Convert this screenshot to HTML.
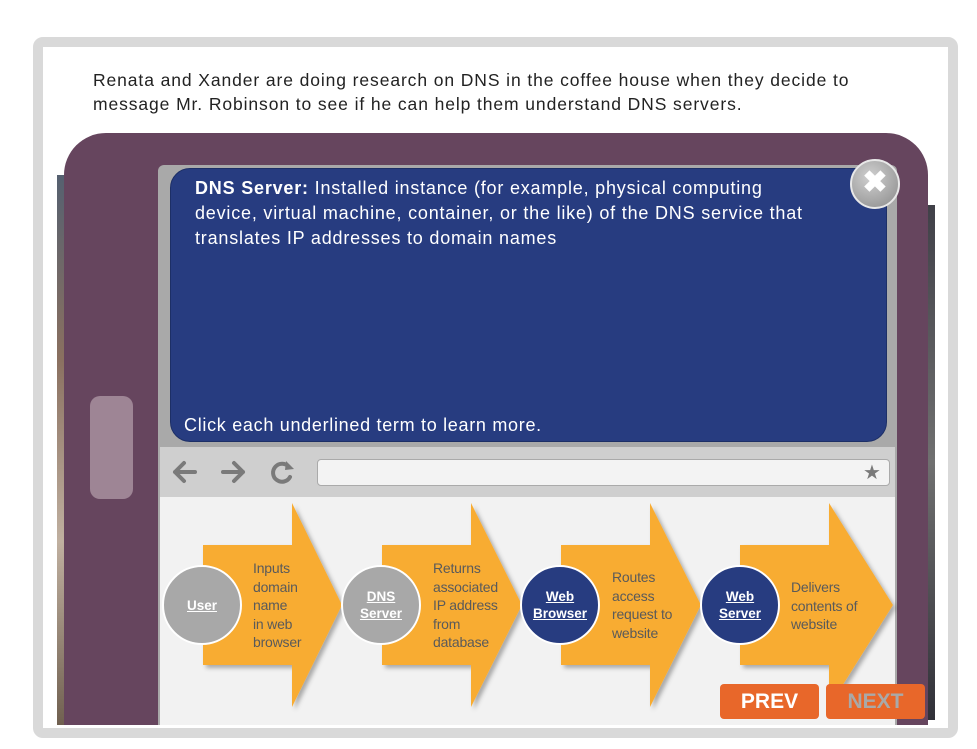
<!DOCTYPE html>
<html><head><meta charset="utf-8"><style>
*{margin:0;padding:0;box-sizing:border-box}
body{width:977px;height:749px;background:#fff;position:relative;overflow:hidden;font-family:"Liberation Sans",sans-serif}
.abs{position:absolute}
.txt{color:#5a5a5a;font-size:14px;line-height:18.5px;letter-spacing:-0.2px}
.circ{position:absolute;width:80px;height:80px;border-radius:50%;border:2px solid #fff;color:#fff;font-weight:bold;font-size:13.5px;line-height:17px;text-align:center;display:flex;align-items:center;justify-content:center;text-decoration:underline}
</style></head><body>
<div class="abs" style="left:33px;top:37px;width:925px;height:701px;border:10px solid #d9d9d9;border-radius:10px;background:#fff"></div>
<div class="abs" style="left:93px;top:68px;white-space:nowrap;font-size:17.5px;line-height:24px;color:#222;letter-spacing:0.9px">Renata and Xander are doing research on DNS in the coffee house when they decide to<br>message Mr. Robinson to see if he can help them understand DNS servers.</div>
<div class="abs" style="left:57px;top:175px;width:10px;height:550px;background:linear-gradient(#556070,#8a7060,#c0b0a0,#706050)"></div>
<div class="abs" style="left:925px;top:205px;width:10px;height:515px;background:linear-gradient(#404048,#707070,#303038)"></div>
<div class="abs" style="left:64px;top:133px;width:864px;height:592px;background:#66455e;border-radius:42px 42px 0 0"></div>
<div class="abs" style="left:90px;top:396px;width:43px;height:103px;background:#9e8595;border-radius:10px"></div>
<div class="abs" style="left:158px;top:165px;width:739px;height:560px;background:#a9a9a9;border-radius:6px 6px 0 0"></div>
<div class="abs" style="left:170px;top:168px;width:717px;height:274px;background:#273c80;border-radius:20px;border:1px solid #1d2f66"></div>
<div class="abs" style="left:195px;top:176px;white-space:nowrap;color:#fff;font-size:18px;line-height:25px;letter-spacing:0.8px"><b>DNS Server:</b> Installed instance (for example, physical computing<br>device, virtual machine, container, or the like) of the DNS service that<br>translates IP addresses to domain names</div>
<div class="abs" style="left:184px;top:415px;color:#fff;font-size:18px;letter-spacing:0.7px;white-space:nowrap">Click each underlined term to learn more.</div>
<div class="abs" style="left:850px;top:159px;width:50px;height:50px;border-radius:50%;background:radial-gradient(circle at 40% 35%,#d0d0d0,#8a8a8a);border:2px solid #e8e8e8;color:#fff;font-size:30px;font-weight:bold;text-align:center;line-height:44px">✖</div>
<div class="abs" style="left:160px;top:447px;width:735px;height:50px;background:#cfcfcf"></div>
<svg class="abs" style="left:160px;top:447px" width="150" height="50">
<g stroke="#7a7a7a" stroke-width="4" fill="none" stroke-linecap="round" stroke-linejoin="round">
<path d="M15 25 H35 M24 16 L15 25 L24 34"/>
<path d="M63 25 H83 M74 16 L83 25 L74 34"/>
<path d="M129 20 A9 9 0 1 0 130 30"/></g>
<polygon points="126,14 134,22 125,23" fill="#7a7a7a"/>
</svg>
<div class="abs" style="left:317px;top:459px;width:573px;height:27px;background:#f3f3f3;border:1px solid #aaa;border-radius:4px"></div>
<div class="abs" style="left:863px;top:460px;color:#7a7a7a;font-size:20px">★</div>
<div class="abs" style="left:160px;top:497px;width:735px;height:228px;background:#f2f2f2"></div>
<svg class="abs" style="left:0;top:0" width="977" height="749">
<defs><filter id="s" x="-10%" y="-10%" width="130%" height="130%"><feDropShadow dx="3" dy="3" stdDeviation="2" flood-opacity="0.3"/></filter></defs>
<g fill="#f8ac33" filter="url(#s)">
<polygon points="203,545 292,545 292,503 342,605 292,707 292,665 203,665"/>
<polygon points="382,545 471,545 471,503 522,605 471,707 471,665 382,665"/>
<polygon points="561,545 650,545 650,503 701,605 650,707 650,665 561,665"/>
<polygon points="740,545 829,545 829,503 893,605 829,707 829,665 740,665"/>
</g></svg>
<div class="circ" style="left:162px;top:565px;background:#a8a8a8">User</div>
<div class="circ" style="left:341px;top:565px;background:#a8a8a8">DNS<br>Server</div>
<div class="circ" style="left:520px;top:565px;background:#273c80">Web<br>Browser</div>
<div class="circ" style="left:700px;top:565px;background:#273c80">Web<br>Server</div>
<div class="abs txt" style="left:253px;top:559px">Inputs<br>domain<br>name<br>in web<br>browser</div>
<div class="abs txt" style="left:433px;top:559px">Returns<br>associated<br>IP address<br>from<br>database</div>
<div class="abs txt" style="left:612px;top:568px">Routes<br>access<br>request to<br>website</div>
<div class="abs txt" style="left:791px;top:578px">Delivers<br>contents of<br>website</div>
<div class="abs" style="left:720px;top:684px;width:99px;height:35px;background:#e8672a;border-radius:4px;color:#fff;font-weight:bold;font-size:21px;text-align:center;line-height:35px">PREV</div>
<div class="abs" style="left:826px;top:684px;width:99px;height:35px;background:#e8672a;border-radius:4px;color:#a9a9a9;font-weight:bold;font-size:21px;text-align:center;line-height:35px">NEXT</div>
</body></html>
